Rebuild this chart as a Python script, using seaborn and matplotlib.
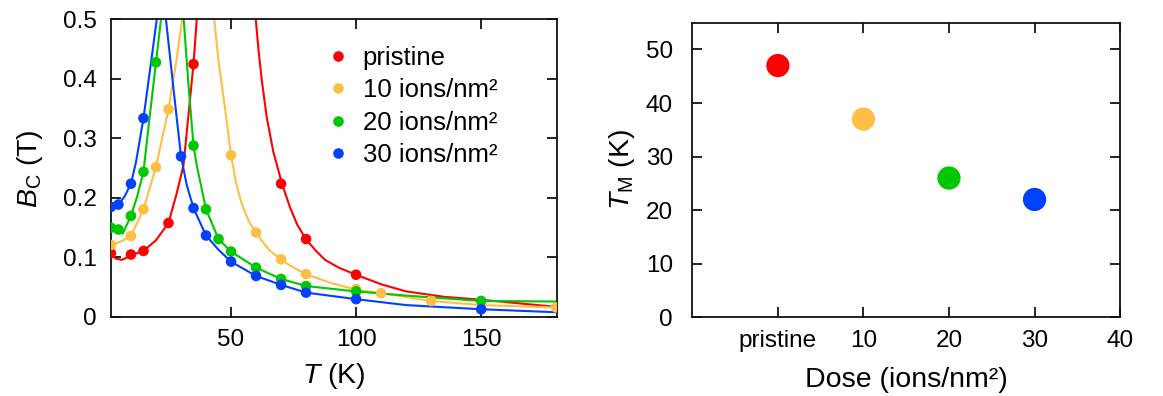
import matplotlib
matplotlib.use("Agg")
import matplotlib.pyplot as plt
import pandas as pd
import seaborn as sns

# ---- data -----------------------------------------------------------------
samples = ["pristine", "10 ions/nm²", "20 ions/nm²", "30 ions/nm²"]
colors = ["#FF0000", "#FFBE46", "#00C800", "#0040FF"]

# measured critical field B_C (T) against temperature T (K)
t_pristine = [2, 10, 15, 25, 35, 70, 80, 100]
b_pristine = [0.107, 0.105, 0.111, 0.158, 0.425, 0.224, 0.131, 0.071]

t_dose10 = [2, 10, 15, 20, 25, 50, 60, 70, 80, 100, 110, 130, 180]
b_dose10 = [0.121, 0.136, 0.181, 0.252, 0.349, 0.272, 0.142, 0.097, 0.072,
            0.047, 0.040, 0.027, 0.016]

t_dose20 = [2, 5, 10, 15, 20, 35, 40, 45, 50, 60, 70, 80, 100, 150]
b_dose20 = [0.150, 0.147, 0.170, 0.244, 0.428, 0.288, 0.181, 0.131, 0.110,
            0.083, 0.064, 0.052, 0.043, 0.027]

t_dose30 = [2, 5, 10, 15, 30, 35, 40, 50, 60, 70, 80, 100, 150]
b_dose30 = [0.185, 0.189, 0.224, 0.334, 0.270, 0.183, 0.137, 0.093, 0.069,
            0.054, 0.041, 0.030, 0.013]

# fitted curves, one branch below and one above T_M for each sample
fit_t_pristine_lo = [2, 4, 6.3, 8, 10, 15, 20, 25, 28.3, 31, 33, 35, 36.3]
fit_b_pristine_lo = [0.106, 0.098, 0.096, 0.099, 0.104, 0.111, 0.129, 0.158,
                     0.208, 0.255, 0.34, 0.425, 0.5]
fit_t_pristine_hi = [59.9, 61, 62.3, 64.3, 66.9, 70.3, 73.6, 76.5, 79.9, 84,
                     87.6, 93, 100, 110, 120, 135, 150, 180]
fit_b_pristine_hi = [0.5, 0.448, 0.398, 0.335, 0.278, 0.225, 0.184, 0.155,
                     0.131, 0.111, 0.096, 0.083, 0.071, 0.055, 0.043, 0.034,
                     0.029, 0.017]

fit_t_dose10_lo = [2, 6, 10, 15, 20, 25, 27.9, 30.5]
fit_b_dose10_lo = [0.121, 0.127, 0.136, 0.181, 0.252, 0.349, 0.424, 0.5]
fit_t_dose10_hi = [43.3, 45, 47.6, 50, 52, 54.3, 57, 60, 64.9, 70, 75, 80,
                   90, 100, 110, 130, 150, 180]
fit_b_dose10_hi = [0.5, 0.43, 0.351, 0.272, 0.226, 0.190, 0.162, 0.141,
                   0.114, 0.096, 0.083, 0.072, 0.057, 0.046, 0.040, 0.027,
                   0.020, 0.016]

fit_t_dose20_lo = [2, 5, 6.7, 10, 12.5, 15, 17.3, 20, 22]
fit_b_dose20_lo = [0.150, 0.147, 0.140, 0.170, 0.203, 0.244, 0.33, 0.428, 0.5]
fit_t_dose20_hi = [31.1, 32.9, 35, 36.3, 40, 45, 50, 60, 70, 80, 100, 120,
                   150, 180]
fit_b_dose20_hi = [0.5, 0.395, 0.288, 0.255, 0.181, 0.131, 0.110, 0.083,
                   0.064, 0.052, 0.043, 0.036, 0.027, 0.026]

fit_t_dose30_lo = [2, 5, 7.5, 10, 12, 15, 17.9, 20.3]
fit_b_dose30_lo = [0.185, 0.189, 0.203, 0.224, 0.26, 0.334, 0.424, 0.5]
fit_t_dose30_hi = [24, 26.7, 30, 32.3, 35, 40, 45, 50, 60, 70, 80, 100, 120,
                   150, 180]
fit_b_dose30_hi = [0.5, 0.395, 0.27, 0.222, 0.183, 0.137, 0.113, 0.093,
                   0.069, 0.054, 0.041, 0.030, 0.020, 0.013, 0.008]

# transition temperature T_M against irradiation dose
dose = [0, 10, 20, 30]
tm = [47, 37, 26, 22]
dose_ticks = [0, 10, 20, 30, 40]
dose_ticklabels = ["pristine", "10", "20", "30", "40"]

# ---- tables ---------------------------------------------------------------
measured = [(t_pristine, b_pristine), (t_dose10, b_dose10),
            (t_dose20, b_dose20), (t_dose30, b_dose30)]
fits = [
    ((fit_t_pristine_lo, fit_b_pristine_lo), (fit_t_pristine_hi, fit_b_pristine_hi)),
    ((fit_t_dose10_lo, fit_b_dose10_lo), (fit_t_dose10_hi, fit_b_dose10_hi)),
    ((fit_t_dose20_lo, fit_b_dose20_lo), (fit_t_dose20_hi, fit_b_dose20_hi)),
    ((fit_t_dose30_lo, fit_b_dose30_lo), (fit_t_dose30_hi, fit_b_dose30_hi)),
]

pts = pd.concat(
    [pd.DataFrame({"T": t, "Bc": b, "sample": s})
     for s, (t, b) in zip(samples, measured)],
    ignore_index=True)

curve_frames = []
for s, branches in zip(samples, fits):
    for name, (t, b) in zip(["lo", "hi"], branches):
        curve_frames.append(pd.DataFrame({"T": t, "Bc": b, "sample": s,
                                          "branch": f"{s}-{name}"}))
curves = pd.concat(curve_frames, ignore_index=True)

tm_df = pd.DataFrame({"dose": dose, "TM": tm, "sample": samples})

palette = dict(zip(samples, colors))

# ---- style ----------------------------------------------------------------
sns.set_theme(style="ticks", rc={
    "xtick.direction": "in", "ytick.direction": "in",
    "xtick.top": True, "ytick.right": True,
    "xtick.bottom": True, "ytick.left": True,
    "xtick.major.size": 7, "ytick.major.size": 7,
    "xtick.major.width": 1.2, "ytick.major.width": 1.2,
    "xtick.color": "black", "ytick.color": "black",
    "text.color": "black", "axes.labelcolor": "black",
    "axes.edgecolor": "#111111", "axes.linewidth": 1.3,
})
plt.rcParams["font.family"] = ["Liberation Sans", "DejaVu Sans"]
plt.rcParams["mathtext.fontset"] = "custom"
plt.rcParams["mathtext.rm"] = "Liberation Sans"
plt.rcParams["mathtext.it"] = "Liberation Sans:italic"
plt.rcParams["mathtext.bf"] = "Liberation Sans:bold"

fig = plt.figure(figsize=(11.63, 3.96), dpi=100)
ax1 = fig.add_axes([0.0954, 0.1995, 0.3835, 0.7513])
ax2 = fig.add_axes([0.5953, 0.1987, 0.3678, 0.744])

# ---- left: B_C(T) ---------------------------------------------------------
sns.lineplot(data=curves, x="T", y="Bc", hue="sample", units="branch",
             estimator=None, sort=False, palette=palette, linewidth=1.5,
             legend=False, ax=ax1, zorder=2)
sns.scatterplot(data=pts, x="T", y="Bc", hue="sample", palette=palette,
                s=58, linewidth=0, ax=ax1, zorder=3)

ax1.set_xlim(2, 180.3)
ax1.set_ylim(0, 0.5)
ax1.set_xticks([50, 100, 150])
yt = [0, 0.1, 0.2, 0.3, 0.4, 0.5]
ax1.set_yticks(yt)
ax1.set_yticklabels(["0" if v == 0 else f"{v:g}" for v in yt])
ax1.set_xlabel(r"$T$ (K)", fontsize=20.5, labelpad=6.5)
ax1.set_ylabel(r"$B_\mathrm{C}$ (T)", fontsize=20.5, labelpad=13)

handles, labels = ax1.get_legend_handles_labels()
ax1.legend(handles, labels, loc="upper left", bbox_to_anchor=(0.495, 0.912),
           frameon=False, fontsize=18.5, handlelength=0.5, handletextpad=0.7,
           labelspacing=0.33, borderpad=0, borderaxespad=0)

# ---- right: T_M vs dose ---------------------------------------------------
sns.scatterplot(data=tm_df, x="dose", y="TM", hue="sample", palette=palette,
                s=280, linewidth=0, legend=False, ax=ax2, zorder=3)
ax2.set_xlim(-10, 40)
ax2.set_ylim(0, 55)
ax2.set_xticks(dose_ticks)
ax2.set_xticklabels(dose_ticklabels)
ax2.set_yticks([0, 10, 20, 30, 40, 50])
ax2.set_xlabel("Dose (ions/nm²)", fontsize=20.5, labelpad=11)
ax2.set_ylabel(r"$T_\mathrm{M}$ (K)", fontsize=20.5, labelpad=6)

for ax, ypad in ((ax1, 10), (ax2, 14)):
    ax.tick_params(axis="both", which="major", direction="in", top=True,
                   bottom=True, left=True, right=True, length=7, width=1.2,
                   labelsize=17.5, color="black", labelcolor="black")
    ax.tick_params(axis="x", pad=9)
    ax.tick_params(axis="y", pad=ypad)
    for sp in ax.spines.values():
        sp.set_visible(True)
        sp.set_color("#111111")
        sp.set_linewidth(1.3)

fig.savefig("out.png", dpi=100)
